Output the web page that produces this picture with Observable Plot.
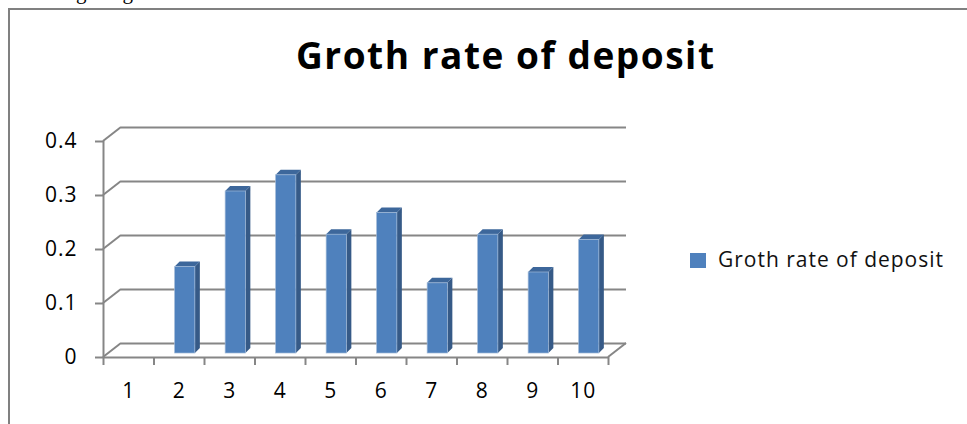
<!DOCTYPE html>
<html>
<head>
<meta charset="utf-8">
<script src="https://cdn.jsdelivr.net/npm/d3@7"></script>
<script src="https://cdn.jsdelivr.net/npm/@observablehq/plot@0.6"></script>
<style>
  html, body { margin: 0; padding: 0; background: #fff; }
  #fig { position: relative; width: 967px; height: 424px; overflow: hidden; background: #fff; }
  #fig svg { position: absolute; left: 0; top: 0; }
  #fig g[aria-label="y-axis tick label"] text,
  #fig g[aria-label="x-axis tick label"] text { letter-spacing: 1px; }
</style>
</head>
<body>
<div id="fig"></div>
<script>
// ---- data ----
const chartTitle = "Groth rate of deposit";
const seriesName = "Groth rate of deposit";
const leadText = "is showing the growth rates of the data under consideration";
const categories = [1, 2, 3, 4, 5, 6, 7, 8, 9, 10];
const growthRate = [0, 0.16, 0.30, 0.33, 0.22, 0.26, 0.13, 0.22, 0.15, 0.21];
const yTicks = [0, 0.1, 0.2, 0.3, 0.4];
const yTickLabels = ["0", "0.1", "0.2", "0.3", "0.4"];

const rows = categories.map((c, i) => ({category: c, value: growthRate[i]}));
// category boundaries, where the x tick marks sit
const xEdges = [...categories.map(c => c - 0.5), categories[categories.length - 1] + 0.5];

// ---- 3-D look (pixel offsets) ----
const wall = {dx: 18, dy: -14};      // back wall behind the front axes
const barShift = {dx: 6, dy: -4};    // bars stand a little inside the box
const barDepth = {dx: 5, dy: -5};    // thickness of each column
const barHalf = 0.2;                 // half column width, in category units

const AXIS = "#868686";
const FRONT = "#4f81bd", SIDE = "#365a87", TOP = "#3d679b";
const FONT = "'Open Sans', sans-serif";

// diagonal edges of the left side wall and of the floor
function wallEdges(index, {x, y}) {
  const g = d3.create("svg:g").attr("stroke", AXIS).attr("stroke-width", 2).attr("fill", "none");
  const x0 = x(xEdges[0]), x1 = x(xEdges[xEdges.length - 1]);
  for (const t of yTicks) {
    g.append("line")
      .attr("x1", x0).attr("y1", y(t))
      .attr("x2", x0 + wall.dx).attr("y2", y(t) + wall.dy);
  }
  g.append("line")
    .attr("x1", x1).attr("y1", y(0))
    .attr("x2", x1 + wall.dx).attr("y2", y(0) + wall.dy);
  return g.node();
}

// columns: side face, top face, front face
function columns3d(index, {x, y}) {
  const g = d3.create("svg:g");
  const {dx, dy} = barDepth;
  for (const d of rows) {
    if (!(d.value > 0)) continue;
    const l = x(d.category - barHalf) + barShift.dx;
    const r = x(d.category + barHalf) + barShift.dx;
    const b = y(0) + barShift.dy;
    const t = y(d.value) + barShift.dy;
    g.append("path")
      .attr("d", `M${r},${b}L${r + dx},${b + dy}L${r + dx},${t + dy}L${r},${t}Z`)
      .attr("fill", SIDE);
    g.append("path")
      .attr("d", `M${l},${t}L${r},${t}L${r + dx},${t + dy}L${l + dx},${t + dy}Z`)
      .attr("fill", TOP);
    g.append("rect")
      .attr("x", l).attr("y", t)
      .attr("width", r - l).attr("height", b - t)
      .attr("fill", FRONT)
      .attr("stroke", "#9fb8d8").attr("stroke-width", 0.7);
  }
  return g.node();
}

const plot = Plot.plot({
  width: 967,
  height: 424,
  marginLeft: 103,
  marginRight: 359,
  marginTop: 141,
  marginBottom: 67,
  style: {fontFamily: FONT, color: "#000", background: "transparent", overflow: "visible"},
  x: {type: "linear", domain: [xEdges[0], xEdges[xEdges.length - 1]]},
  y: {domain: [0, 0.4]},
  marks: [
    // back wall gridlines
    Plot.ruleY(yTicks, {dx: wall.dx, dy: wall.dy, stroke: AXIS, strokeWidth: 2}),
    wallEdges,
    columns3d,
    // front edges of the box
    Plot.ruleX([xEdges[0]], {stroke: AXIS, strokeWidth: 2}),
    Plot.ruleY([0], {stroke: AXIS, strokeWidth: 2}),
    Plot.axisY({
      ticks: yTicks,
      tickFormat: d => yTickLabels[yTicks.indexOf(d)],
      tickSize: 8, tickPadding: 18,
      fontSize: 21, stroke: AXIS, strokeWidth: 2, fill: "#000",
      label: null
    }),
    Plot.axisX({
      ticks: xEdges, tickFormat: () => "",
      tickSize: 8, stroke: AXIS, strokeWidth: 2,
      label: null
    }),
    Plot.axisX({
      ticks: categories, tickFormat: d => String(d),
      tickSize: 0, tickPadding: 26,
      fontSize: 21, fill: "#000",
      label: null
    })
  ]
});

const fig = document.getElementById("fig");
fig.appendChild(plot);

// ---- surrounding text, frame and legend ----
const over = d3.select(fig).append("svg")
  .attr("width", 967).attr("height", 424)
  .style("pointer-events", "none");

over.append("text")
  .attr("x", -4).attr("y", -1)
  .attr("font-family", "Liberation Serif, serif")
  .attr("font-size", 21)
  .attr("fill", "#000")
  .text(leadText);

over.append("path")
  .attr("d", "M9,424V9H967")
  .attr("fill", "none")
  .attr("stroke", "#808080")
  .attr("stroke-width", 2);

over.append("text")
  .attr("x", 505).attr("y", 69)
  .attr("text-anchor", "middle")
  .attr("font-family", FONT)
  .attr("font-weight", 700)
  .attr("font-size", 37)
  .attr("textLength", 418)
  .attr("lengthAdjust", "spacing")
  .attr("fill", "#000")
  .text(chartTitle);

over.append("rect")
  .attr("x", 690).attr("y", 253)
  .attr("width", 16).attr("height", 15)
  .attr("fill", FRONT);

over.append("text")
  .attr("x", 718).attr("y", 267)
  .attr("font-family", FONT)
  .attr("font-size", 21)
  .attr("textLength", 225)
  .attr("lengthAdjust", "spacing")
  .attr("fill", "#111")
  .text(seriesName);
</script>
</body>
</html>
